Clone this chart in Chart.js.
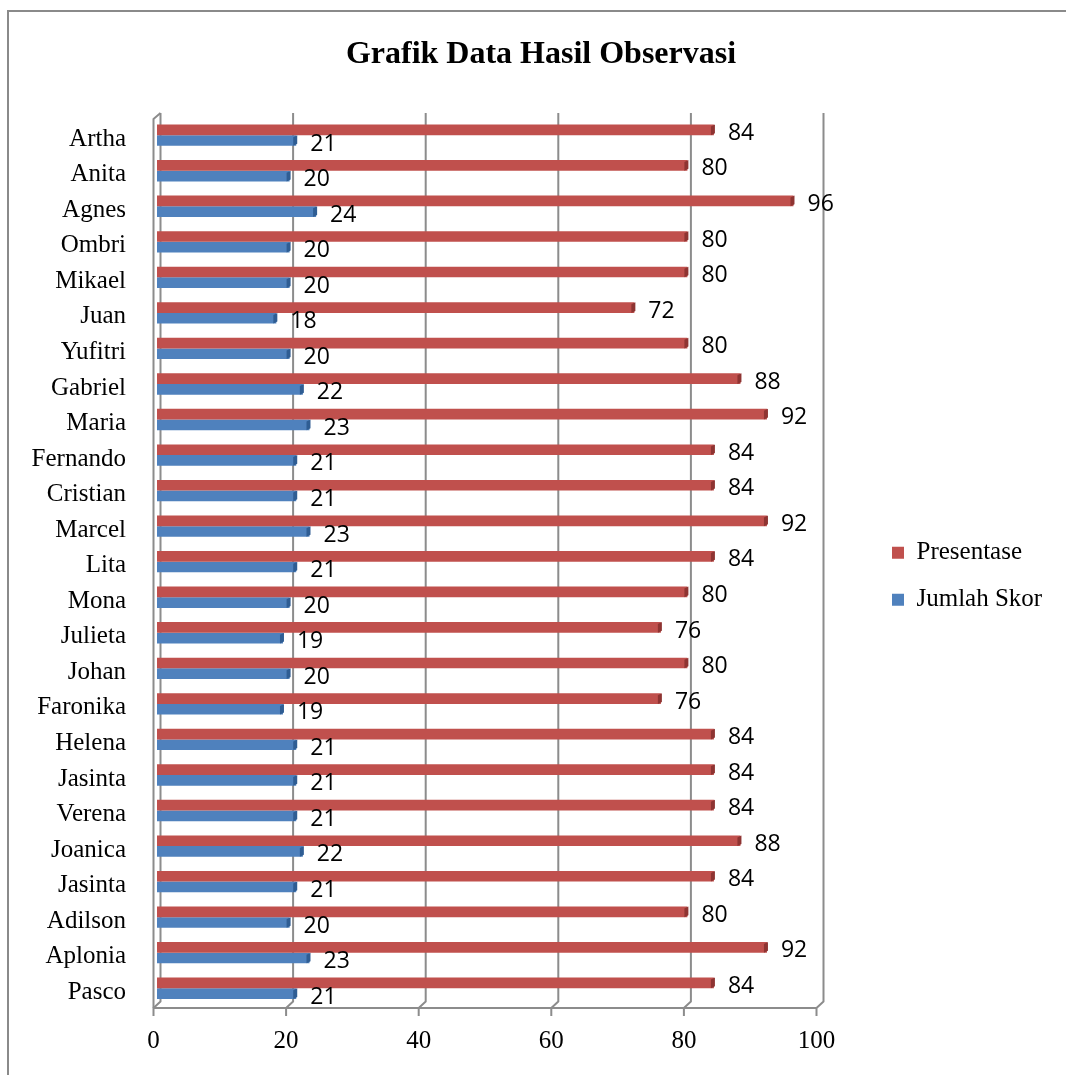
<!DOCTYPE html>
<html><head><meta charset="utf-8">
<script src="https://cdn.jsdelivr.net/npm/chart.js@4/dist/chart.umd.min.js"></script>
<style>
html,body{margin:0;padding:0;background:#fff;overflow:hidden;}
#wrap{position:relative;width:1066px;height:1075px;}
#frame{position:absolute;left:7px;top:10px;width:1070px;height:1080px;border-left:2px solid #8a8a8a;border-top:2px solid #8a8a8a;}
canvas{position:absolute;left:0;top:0;}
</style></head><body>
<div id="wrap"><div id="frame"></div><canvas id="c" width="1066" height="1075" style="width:1066px;height:1075px"></canvas></div>
<script>
const chartTitle = 'Grafik Data Hasil Observasi';
const categories = ['Artha','Anita','Agnes','Ombri','Mikael','Juan','Yufitri','Gabriel','Maria','Fernando','Cristian','Marcel','Lita','Mona','Julieta','Johan','Faronika','Helena','Jasinta','Verena','Joanica','Jasinta','Adilson','Aplonia','Pasco'];
const presentase = [84,80,96,80,80,72,80,88,92,84,84,92,84,80,76,80,76,84,84,84,88,84,80,92,84];
const jumlahSkor = [21,20,24,20,20,18,20,22,23,21,21,23,21,20,19,20,19,21,21,21,22,21,20,23,21];
const seriesNames = ['Presentase','Jumlah Skor'];
const xTicks = [0,20,40,60,80,100];

const RED = '#C0504D', BLUE = '#4F81BD';
const RED_SIDE = '#8E3432', BLUE_SIDE = '#2F5D93';
const SERIF = '"Liberation Serif", "Times New Roman", serif';

const legendFix = {
  id: 'legendFix',
  beforeLayout(chart) {
    const lg = chart.legend;
    if (lg && !lg._fixed) {
      const f = lg.fit;
      lg.fit = function () { f.call(this); this.width = 182; };
      lg._fixed = true;
    }
  }
};

const wallPlugin = {
  id: 'wall3d',
  beforeDatasetsDraw(chart) {
    const {ctx, chartArea: a, scales: {x}} = chart;
    const bx = 3.5, by = -4.5, fx = -3.5, fy = 2;
    const topB = a.top + by, botB = a.bottom + by, botF = a.bottom + fy;
    ctx.save();
    ctx.strokeStyle = '#8c8c8c';
    ctx.lineWidth = 2;
    ctx.lineJoin = 'round';
    xTicks.forEach(v => {
      const p = x.getPixelForValue(v);
      ctx.beginPath();
      ctx.moveTo(p + bx, topB);
      ctx.lineTo(p + bx, botB);
      ctx.lineTo(p + fx, botF);
      ctx.lineTo(p + fx, botF + 8);
      ctx.stroke();
    });
    const p0 = x.getPixelForValue(xTicks[0]);
    const p1 = x.getPixelForValue(xTicks[xTicks.length - 1]);
    ctx.beginPath();
    ctx.moveTo(p0 + fx, botF);
    ctx.lineTo(p1 + fx, botF);
    ctx.stroke();
    ctx.beginPath();
    ctx.moveTo(p0 + bx, topB);
    ctx.lineTo(p0 + fx, topB + 6);
    ctx.lineTo(p0 + fx, botF);
    ctx.stroke();
    ctx.restore();
  },
  afterDatasetsDraw(chart) {
    const {ctx} = chart;
    ctx.save();
    chart.data.datasets.forEach((ds, i) => {
      const meta = chart.getDatasetMeta(i);
      const side = i === 0 ? RED_SIDE : BLUE_SIDE;
      meta.data.forEach((el, j) => {
        const top = el.y - el.height / 2, bot = el.y + el.height / 2;
        ctx.fillStyle = side;
        ctx.beginPath();
        ctx.moveTo(el.x - 3, top + 2);
        ctx.lineTo(el.x + 1, top);
        ctx.lineTo(el.x + 1, bot - 2);
        ctx.lineTo(el.x - 3, bot);
        ctx.closePath();
        ctx.fill();
        ctx.fillStyle = '#000';
        ctx.font = '23px "Open Sans", "Noto Sans", sans-serif';
        ctx.textAlign = 'left';
        ctx.textBaseline = 'middle';
        ctx.fillText(String(ds.data[j]), el.x + 14, el.y + 3.5);
      });
    });
    ctx.restore();
  }
};

new Chart(document.getElementById('c'), {
  type: 'bar',
  data: {
    labels: categories,
    datasets: [
      {label: seriesNames[0], data: presentase, backgroundColor: RED, borderWidth: 0, barPercentage: 1, categoryPercentage: 0.6},
      {label: seriesNames[1], data: jumlahSkor, backgroundColor: BLUE, borderWidth: 0, barPercentage: 1, categoryPercentage: 0.6}
    ]
  },
  options: {
    indexAxis: 'y',
    responsive: false,
    animation: false,
    layout: {padding: {left: 30, right: 14, top: 0, bottom: 0}},
    plugins: {
      title: {display: true, text: chartTitle, color: '#000', font: {family: SERIF, size: 32, weight: 'bold'}, padding: {top: 36, bottom: 43}},
      legend: {
        display: true, position: 'right', fullSize: false,
        title: {display: true, text: ' ', font: {size: 10}, padding: {top: 17, bottom: 0}},
        labels: {color: '#000', font: {family: SERIF, size: 25}, boxWidth: 12, boxHeight: 12, padding: 22}
      },
      tooltip: {enabled: false}
    },
    scales: {
      x: {
        type: 'linear', position: 'bottom', min: 0, max: 100,
        afterBuildTicks: s => { s.ticks = xTicks.map(v => ({value: v})); },
        afterFit: s => { s.height = 69; },
        grid: {display: false, drawTicks: false},
        border: {display: false},
        ticks: {color: '#000', font: {family: SERIF, size: 25}, padding: 20, labelOffset: -3.5, maxRotation: 0}
      },
      y: {
        type: 'category', position: 'left',
        afterFit: s => { s.width = 127; },
        grid: {display: false, drawTicks: false},
        border: {display: false},
        ticks: {color: '#000', font: {family: SERIF, size: 25}, padding: 31, labelOffset: 4, autoSkip: false}
      },
      gap: {
        type: 'linear', position: 'right', display: true,
        afterFit: s => { s.width = 50; },
        grid: {display: false}, border: {display: false}, ticks: {display: false}
      }
    }
  },
  plugins: [legendFix, wallPlugin]
});
</script>
</body></html>
